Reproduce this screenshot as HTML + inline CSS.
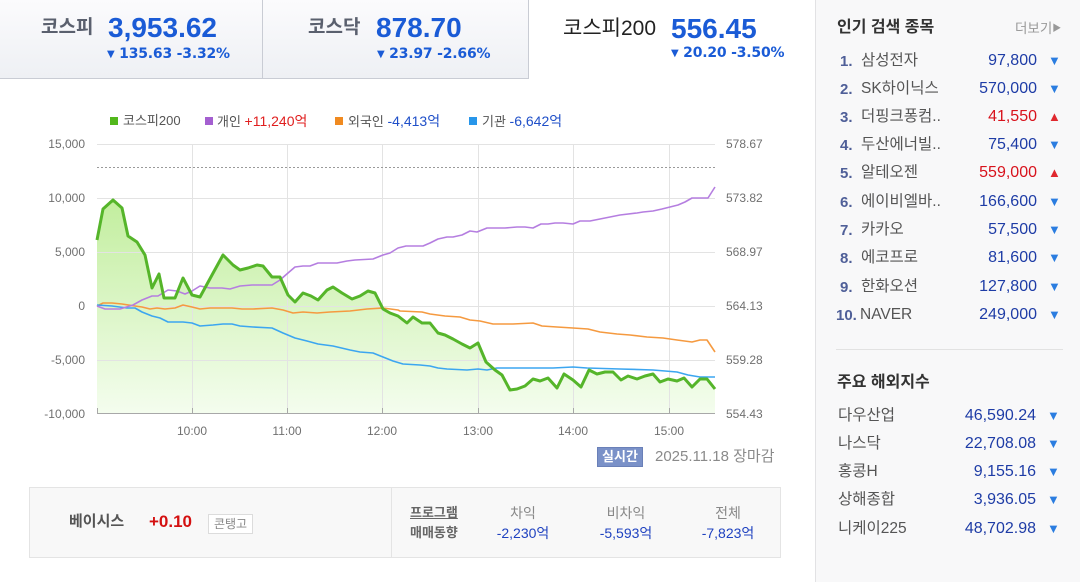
<!DOCTYPE html>
<html><head><meta charset="utf-8">
<style>
*{margin:0;padding:0;box-sizing:border-box}
html,body{width:1080px;height:582px;overflow:hidden;background:#fff}
body{position:relative;font-family:"Liberation Sans","Noto Sans CJK KR",sans-serif}
.a{position:absolute;line-height:1;white-space:nowrap}
.tab{position:absolute;top:0;height:79px;background:linear-gradient(#fbfbfd,#eef0f4);border-bottom:1px solid #c9ccd4;border-right:1px solid #c9ccd4}
.big{font-weight:bold;font-size:28px;color:#1a5bd6}
.sub{font-family:"DejaVu Sans",sans-serif;font-weight:bold;font-size:14px;color:#1a5bd6;letter-spacing:-0.2px}
.sub .t{font-size:10px;position:relative;top:-1px}
.side{position:absolute;left:815px;top:0;width:265px;height:582px;background:#f8f8f9;border-left:1px solid #e2e2e4}
.num{font-weight:bold;font-size:15px;color:#4f5f98}
.nm{font-size:15.5px;color:#555}
.pr{font-size:16px;color:#1e3ca6;text-align:right}
.up{color:#d8121c}
.ar{font-size:13px;color:#2b7de0}
.ar.r{color:#e0282e}
.lbl{font-size:12px;color:#707070}
.lg{font-size:13px;color:#555}
</style></head><body>

<div class="tab" style="left:0;width:263px"></div>
<div class="tab" style="left:263px;width:266px"></div>

<div class="a" style="left:41px;top:18px;font-size:19px;font-weight:bold;color:#5a606e">코스피</div>
<div class="a big" style="left:108px;top:14px">3,953.62</div>
<div class="a sub" style="left:107px;top:47px"><span class="t">▼</span> 135.63 -3.32%</div>

<div class="a" style="left:308px;top:18px;font-size:19px;font-weight:bold;color:#5a606e">코스닥</div>
<div class="a big" style="left:376px;top:14px">878.70</div>
<div class="a sub" style="left:377px;top:47px"><span class="t">▼</span> 23.97 -2.66%</div>

<div class="a" style="left:563px;top:18px;font-size:21px;color:#222">코스피200</div>
<div class="a big" style="left:671px;top:15px">556.45</div>
<div class="a sub" style="left:671px;top:46px"><span class="t">▼</span> 20.20 -3.50%</div>

<!-- legend -->
<div class="a" style="left:110px;top:117px;width:8px;height:8px;background:#52b81c"></div>
<div class="a lg" style="left:123px;top:114px">코스피200</div>
<div class="a" style="left:205px;top:117px;width:8px;height:8px;background:#a45fd0"></div>
<div class="a lg" style="left:217px;top:114px">개인 <span style="color:#e01e1e;font-size:14px">+11,240억</span></div>
<div class="a" style="left:335px;top:117px;width:8px;height:8px;background:#f08a20"></div>
<div class="a lg" style="left:348px;top:114px">외국인 <span style="color:#1f4fc8;font-size:14px">-4,413억</span></div>
<div class="a" style="left:469px;top:117px;width:8px;height:8px;background:#2896ea"></div>
<div class="a lg" style="left:482px;top:114px">기관 <span style="color:#1f4fc8;font-size:14px">-6,642억</span></div>

<svg class="a" style="left:0;top:0" width="815" height="480" viewBox="0 0 815 480">
<defs>
<linearGradient id="gf" gradientUnits="userSpaceOnUse" x1="0" y1="200" x2="0" y2="413">
<stop offset="0" stop-color="#c2ee9e"/><stop offset="1" stop-color="#f4fdee"/>
</linearGradient>
</defs>
<polygon fill="url(#gf)" points="97,413 97,240 103,209 113,200 122,208 128,236 137,242 145,255 152,288 159,274 164,298 175,298 183,278 192,295 200,297 212,275 223,255 233,265 240,270 248,268 257,265 263,266 272,277 280,277 288,295 295,302 303,293 311,296 318,300 327,290 333,287 342,293 352,299 360,296 368,291 375,293 383,309 390,313 398,316 407,323 413,317 422,323 430,323 438,333 445,335 453,339 462,344 470,348 478,343 486,362 495,370 502,375 510,390 517,389 525,386 533,379 540,381 548,378 557,388 564,374 573,380 581,387 589,370 597,374 605,372 613,372 621,380 628,376 637,379 645,376 653,374 660,382 668,379 677,381 684,378 692,387 700,379 707,379 715,389 715,413"/>
<g stroke="#e3e3e3" stroke-width="1">
<line x1="97" y1="144.5" x2="715" y2="144.5"/>
<line x1="97" y1="198.5" x2="715" y2="198.5"/>
<line x1="97" y1="252.5" x2="715" y2="252.5"/>
<line x1="97" y1="306.5" x2="715" y2="306.5"/>
<line x1="97" y1="360.5" x2="715" y2="360.5"/>
<line x1="192.5" y1="144" x2="192.5" y2="413"/>
<line x1="287.5" y1="144" x2="287.5" y2="413"/>
<line x1="382.5" y1="144" x2="382.5" y2="413"/>
<line x1="478.5" y1="144" x2="478.5" y2="413"/>
<line x1="573.5" y1="144" x2="573.5" y2="413"/>
<line x1="669.5" y1="144" x2="669.5" y2="413"/>
</g>
<line x1="97" y1="167.5" x2="715" y2="167.5" stroke="#9a9a9a" stroke-width="1" stroke-dasharray="2,2"/>
<line x1="97" y1="413.5" x2="715" y2="413.5" stroke="#a8a8a8" stroke-width="1"/>
<g stroke="#a8a8a8" stroke-width="1">
<line x1="97.5" y1="408" x2="97.5" y2="414"/>
<line x1="192.5" y1="408" x2="192.5" y2="414"/>
<line x1="287.5" y1="408" x2="287.5" y2="414"/>
<line x1="382.5" y1="408" x2="382.5" y2="414"/>
<line x1="478.5" y1="408" x2="478.5" y2="414"/>
<line x1="573.5" y1="408" x2="573.5" y2="414"/>
<line x1="669.5" y1="408" x2="669.5" y2="414"/>
</g>
<polyline fill="none" stroke="#f59a40" stroke-width="1.6" stroke-linejoin="round" points="97,306 103,303 112,303 122,304 135,306 142,307 150,309 157,308 165,309 175,308 183,305 192,307 200,309 210,308 222,308 232,308 242,309 253,309 272,308 283,310 293,313 303,312 317,313 330,312 350,311 367,309 383,308 398,310 400,311 422,312 430,314 445,316 460,317 470,320 480,321 493,324 513,324 533,323 542,326 557,327 573,328 588,329 600,332 617,334 630,335 647,337 663,338 677,340 692,342 700,340 707,340 715,352"/>
<polyline fill="none" stroke="#3ca6f0" stroke-width="1.6" stroke-linejoin="round" points="97,305 112,306 127,308 135,308 142,312 152,316 160,318 168,322 183,322 192,323 200,326 213,325 223,324 232,324 240,326 253,327 272,328 283,333 295,338 307,341 318,344 333,346 350,350 360,352 373,353 383,357 393,361 403,364 420,365 430,366 438,368 447,369 467,370 478,369 487,370 497,368 533,368 553,368 573,367 587,368 620,369 653,370 677,372 688,375 700,377 715,377"/>
<polyline fill="none" stroke="#b57ee0" stroke-width="1.6" stroke-linejoin="round" points="97,306 105,309 120,309 133,305 142,300 152,296 158,296 168,290 177,291 185,294 192,291 200,286 210,288 222,288 230,289 240,286 252,285 272,285 280,280 288,273 295,267 303,266 310,266 318,263 327,263 337,263 347,261 355,260 373,259 383,255 390,253 398,248 406,246 423,246 430,243 438,239 447,237 453,237 462,235 470,231 477,232 487,228 495,228 505,228 517,227 525,227 533,228 541,224 548,224 555,223 563,223 573,224 580,221 590,221 600,219 610,217 620,215 637,213 643,212 653,211 662,209 670,207 678,205 685,202 692,198 700,198 708,198 715,187"/>
<polyline fill="none" stroke="#55b52a" stroke-width="3" stroke-linejoin="round" points="97,240 103,209 113,200 122,208 128,236 137,242 145,255 152,288 159,274 164,298 175,298 183,278 192,295 200,297 212,275 223,255 233,265 240,270 248,268 257,265 263,266 272,277 280,277 288,295 295,302 303,293 311,296 318,300 327,290 333,287 342,293 352,299 360,296 368,291 375,293 383,309 390,313 398,316 407,323 413,317 422,323 430,323 438,333 445,335 453,339 462,344 470,348 478,343 486,362 495,370 502,375 510,390 517,389 525,386 533,379 540,381 548,378 557,388 564,374 573,380 581,387 589,370 597,374 605,372 613,372 621,380 628,376 637,379 645,376 653,374 660,382 668,379 677,381 684,378 692,387 700,379 707,379 715,389"/>
</svg>

<!-- left axis labels -->
<div class="a lbl" style="left:35px;width:50px;text-align:right;top:138px">15,000</div>
<div class="a lbl" style="left:35px;width:50px;text-align:right;top:192px">10,000</div>
<div class="a lbl" style="left:35px;width:50px;text-align:right;top:246px">5,000</div>
<div class="a lbl" style="left:35px;width:50px;text-align:right;top:300px">0</div>
<div class="a lbl" style="left:35px;width:50px;text-align:right;top:354px">-5,000</div>
<div class="a lbl" style="left:35px;width:50px;text-align:right;top:408px">-10,000</div>
<!-- right axis labels -->
<div class="a lbl" style="left:726px;top:138px">578.67</div>
<div class="a lbl" style="left:726px;top:192px">573.82</div>
<div class="a lbl" style="left:726px;top:246px">568.97</div>
<div class="a lbl" style="left:726px;top:300px">564.13</div>
<div class="a lbl" style="left:726px;top:354px">559.28</div>
<div class="a lbl" style="left:726px;top:408px">554.43</div>
<!-- x labels -->
<div class="a lbl" style="left:172px;width:40px;text-align:center;top:425px">10:00</div>
<div class="a lbl" style="left:267px;width:40px;text-align:center;top:425px">11:00</div>
<div class="a lbl" style="left:362px;width:40px;text-align:center;top:425px">12:00</div>
<div class="a lbl" style="left:458px;width:40px;text-align:center;top:425px">13:00</div>
<div class="a lbl" style="left:553px;width:40px;text-align:center;top:425px">14:00</div>
<div class="a lbl" style="left:649px;width:40px;text-align:center;top:425px">15:00</div>

<div class="a" style="left:597px;top:447px;width:46px;height:20px;background:#7a91c8;border:1px solid #6a80b8;color:#fff;font-size:13px;font-weight:bold;text-align:center;line-height:18px">실시간</div>
<div class="a" style="left:655px;top:449px;font-size:15px;color:#8a8a8a">2025.11.18 장마감</div>

<!-- bottom box -->
<div class="a" style="left:29px;top:487px;width:752px;height:71px;background:#f8f8f8;border:1px solid #e4e4e4"></div>
<div class="a" style="left:391px;top:488px;width:1px;height:69px;background:#e4e4e4"></div>
<div class="a" style="left:69px;top:514px;font-size:15px;font-weight:bold;color:#555">베이시스</div>
<div class="a" style="left:149px;top:513px;font-size:17px;font-weight:bold;color:#d41010">+0.10</div>
<div class="a" style="left:208px;top:514px;width:45px;height:20px;border:1px solid #dcdcdc;background:#fff;font-size:12px;color:#888;text-align:center;line-height:18px">콘탱고</div>
<div class="a" style="left:410px;top:506px;font-size:13px;font-weight:bold;color:#666;text-decoration:underline">프로그램</div>
<div class="a" style="left:410px;top:526px;font-size:13px;font-weight:bold;color:#666">매매동향</div>
<div class="a" style="left:483px;width:80px;text-align:center;top:506px;font-size:14px;color:#888">차익</div>
<div class="a" style="left:483px;width:80px;text-align:center;top:526px;font-size:14px;color:#1f42c0">-2,230억</div>
<div class="a" style="left:586px;width:80px;text-align:center;top:506px;font-size:14px;color:#888">비차익</div>
<div class="a" style="left:586px;width:80px;text-align:center;top:526px;font-size:14px;color:#1f42c0">-5,593억</div>
<div class="a" style="left:688px;width:80px;text-align:center;top:506px;font-size:14px;color:#888">전체</div>
<div class="a" style="left:688px;width:80px;text-align:center;top:526px;font-size:14px;color:#1f42c0">-7,823억</div>

<!-- sidebar -->
<div class="side"></div>
<div class="a" style="left:837px;top:20px;font-size:16px;font-weight:bold;color:#333">인기 검색 종목</div>
<div class="a" style="left:1015px;top:22px;font-size:13.5px;color:#999">더보기<span style="font-size:9px;position:relative;top:-2px">▶</span></div>

<div class="a num" style="left:840px;top:54px">1.</div><div class="a nm" style="left:861px;top:53px">삼성전자</div><div class="a pr" style="right:43px;top:53px">97,800</div><div class="a ar" style="left:1048px;top:54px">▼</div>
<div class="a num" style="left:840px;top:82px">2.</div><div class="a nm" style="left:861px;top:81px">SK하이닉스</div><div class="a pr" style="right:43px;top:81px">570,000</div><div class="a ar" style="left:1048px;top:82px">▼</div>
<div class="a num" style="left:840px;top:110px">3.</div><div class="a nm" style="left:861px;top:109px">더핑크퐁컴..</div><div class="a pr up" style="right:43px;top:109px">41,550</div><div class="a ar r" style="left:1048px;top:110px">▲</div>
<div class="a num" style="left:840px;top:138px">4.</div><div class="a nm" style="left:861px;top:137px">두산에너빌..</div><div class="a pr" style="right:43px;top:137px">75,400</div><div class="a ar" style="left:1048px;top:138px">▼</div>
<div class="a num" style="left:840px;top:166px">5.</div><div class="a nm" style="left:861px;top:165px">알테오젠</div><div class="a pr up" style="right:43px;top:165px">559,000</div><div class="a ar r" style="left:1048px;top:166px">▲</div>
<div class="a num" style="left:840px;top:195px">6.</div><div class="a nm" style="left:861px;top:194px">에이비엘바..</div><div class="a pr" style="right:43px;top:194px">166,600</div><div class="a ar" style="left:1048px;top:195px">▼</div>
<div class="a num" style="left:840px;top:223px">7.</div><div class="a nm" style="left:861px;top:222px">카카오</div><div class="a pr" style="right:43px;top:222px">57,500</div><div class="a ar" style="left:1048px;top:223px">▼</div>
<div class="a num" style="left:840px;top:251px">8.</div><div class="a nm" style="left:861px;top:250px">에코프로</div><div class="a pr" style="right:43px;top:250px">81,600</div><div class="a ar" style="left:1048px;top:251px">▼</div>
<div class="a num" style="left:840px;top:280px">9.</div><div class="a nm" style="left:861px;top:279px">한화오션</div><div class="a pr" style="right:43px;top:279px">127,800</div><div class="a ar" style="left:1048px;top:280px">▼</div>
<div class="a num" style="left:836px;top:308px">10.</div><div class="a nm" style="left:860px;top:307px">NAVER</div><div class="a pr" style="right:43px;top:307px">249,000</div><div class="a ar" style="left:1048px;top:308px">▼</div>

<div class="a" style="left:836px;top:349px;width:227px;height:1px;background:#e2e2e2"></div>
<div class="a" style="left:837px;top:375px;font-size:16px;font-weight:bold;color:#333">주요 해외지수</div>

<div class="a nm" style="left:838px;top:408px">다우산업</div><div class="a pr" style="right:44px;top:408px">46,590.24</div><div class="a ar" style="left:1047px;top:409px">▼</div>
<div class="a nm" style="left:838px;top:436px">나스닥</div><div class="a pr" style="right:44px;top:436px">22,708.08</div><div class="a ar" style="left:1047px;top:437px">▼</div>
<div class="a nm" style="left:838px;top:464px">홍콩H</div><div class="a pr" style="right:44px;top:464px">9,155.16</div><div class="a ar" style="left:1047px;top:465px">▼</div>
<div class="a nm" style="left:838px;top:492px">상해종합</div><div class="a pr" style="right:44px;top:492px">3,936.05</div><div class="a ar" style="left:1047px;top:493px">▼</div>
<div class="a nm" style="left:838px;top:521px">니케이225</div><div class="a pr" style="right:44px;top:521px">48,702.98</div><div class="a ar" style="left:1047px;top:522px">▼</div>

</body></html>
